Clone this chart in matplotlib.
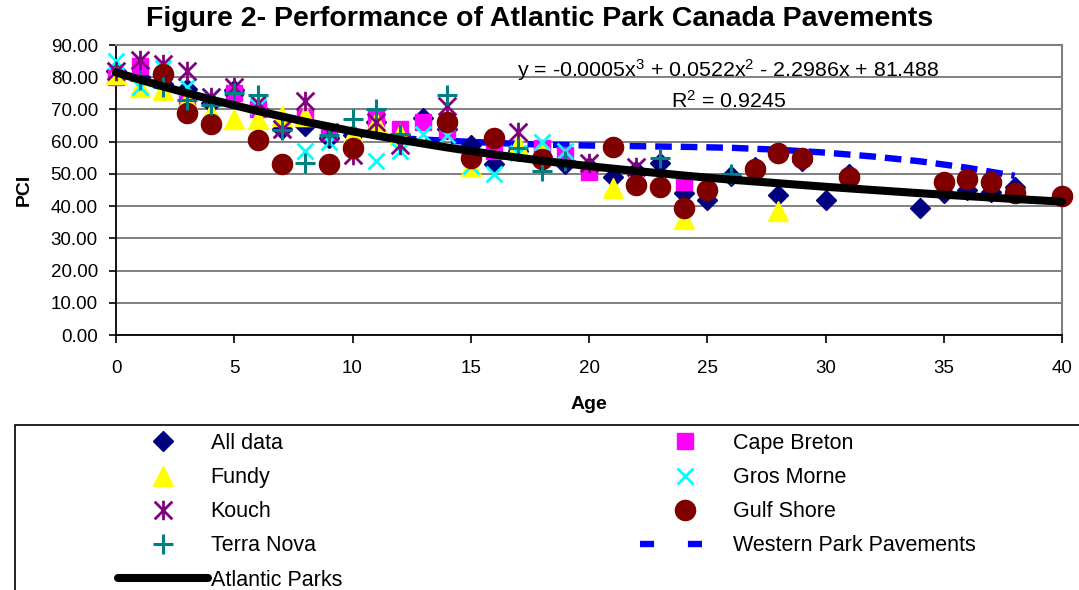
import matplotlib
matplotlib.use("Agg")
import matplotlib.pyplot as plt
from matplotlib.lines import Line2D
from matplotlib.path import Path
from matplotlib.patches import Rectangle

plt.rcParams.update({"font.family": ["Liberation Sans", "DejaVu Sans"],
                     "mathtext.default": "regular"})

# --- data (age in years, PCI) ---
ALL_AGE = [0, 1, 2, 3, 4, 5, 6, 7, 8, 9, 10, 11, 12, 13, 14, 15, 16, 17, 18, 19, 20,
           21, 22, 23, 24, 25, 26, 27, 28, 29, 30, 31, 34, 35, 36, 37, 38, 40]
ALL_PCI = [82, 80, 78, 76.5, 72, 76, 70, 64, 65, 61, 62, 66, 62, 67.5, 64, 59, 53, 57, 55, 53, 52,
           49, 51, 53.5, 44, 42, 49.5, 52, 43.5, 54, 42, 50, 39.5, 44, 45, 44.5, 46, 43]

CB_AGE = [0, 1, 3, 5, 6, 8, 9, 11, 12, 13, 14, 16, 18, 19, 20, 24]
CB_PCI = [80, 83.5, 72, 75, 70, 67.5, 63, 67.5, 64, 66, 63.5, 57, 58, 56, 50.5, 47.5]

FUN_AGE = [0, 1, 2, 3, 4, 5, 6, 7, 8, 10, 11, 12, 15, 17, 18, 21, 24, 28]
FUN_PCI = [81, 77, 76, 73, 69, 67, 67, 68, 68, 62.5, 66, 62.5, 52.5, 59, 57.5, 45.5, 36, 38.5]

GM_AGE = [0, 1, 2, 3, 4, 6, 7, 8, 9, 11, 12, 13, 14, 15, 16, 17, 18, 19]
GM_PCI = [85, 77, 83, 77, 74, 71, 64, 57, 60, 54, 57, 62.5, 62, 52.5, 50, 56.5, 60, 57]

KOU_AGE = [0, 1, 2, 3, 4, 5, 6, 7, 8, 9, 10, 11, 12, 14, 17, 20, 22]
KOU_PCI = [82, 85.5, 84, 82, 74, 77, 72, 64, 72.5, 63, 56, 66, 59, 71, 63, 53.5, 52]

GS_AGE = [2, 3, 4, 6, 7, 9, 10, 14, 15, 16, 18, 21, 22, 23, 24, 25, 27, 28, 29, 31,
          35, 36, 37, 38, 40]
GS_PCI = [81, 69, 65.5, 60.5, 53, 53, 58, 66, 55, 61, 54.5, 58.4, 46.5, 46, 39.5, 45, 51.5, 56.5, 55, 49,
          47.5, 48.5, 47.5, 44, 43]

TN_AGE = [1, 2, 3, 4, 5, 6, 7, 8, 9, 10, 11, 12, 14, 17, 18, 19, 23, 26]
TN_PCI = [79, 77, 73, 71.5, 75, 74.5, 63.5, 53.5, 62, 67, 70, 62.5, 74.5, 58, 51, 54, 55, 50]

WEST_AGE = [12, 14, 16, 18, 20, 22, 24, 26, 28, 30, 32, 34, 36, 38]
WEST_PCI = [61, 60.3, 59.6, 59.1, 58.8, 58.6, 58.4, 58.1, 57.5, 56.6, 55.4, 53.9, 51.9, 49.4]

ATL_AGE = [0, 2, 4, 6, 8, 10, 12, 14, 16, 18, 20, 22, 24, 26, 28, 30, 32, 34, 36, 38, 40]
ATL_PCI = [81.5, 77.1, 73.1, 69.5, 66.2, 63.2, 60.6, 58.2, 56.0, 54.1, 52.4, 50.9, 49.5, 48.2,
           47.1, 46.0, 45.0, 44.0, 43.1, 42.2, 41.4]

W, H = 1079, 590
fig = plt.figure(figsize=(W / 100, H / 100), dpi=100)
ax = fig.add_axes([116 / W, 1 - 335 / H, (1062 - 116) / W, (335 - 45) / H])

# Excel-style asterisk: an X with a vertical bar
star = Path([(-1, -1), (1, 1), (-1, 1), (1, -1), (0, -1.1), (0, 1.1)],
            [Path.MOVETO, Path.LINETO] * 3)

ax.plot(WEST_AGE, WEST_PCI, color="#0000FF", lw=4.6, dashes=(2.6, 1.4),
        dash_capstyle="butt", zorder=2)

series = [
    ("All data", ALL_AGE, ALL_PCI, dict(marker="D", ms=10.5, color="#000080", mec="#000080")),
    ("Cape Breton", CB_AGE, CB_PCI, dict(marker="s", ms=11, color="#FF00FF", mec="#FF00FF")),
    ("Fundy", FUN_AGE, FUN_PCI, dict(marker="^", ms=14, color="#FFFF00", mec="#FFFF00")),
    ("Gros Morne", GM_AGE, GM_PCI, dict(marker="x", ms=12, mew=2, color="#00FFFF")),
    ("Kouch", KOU_AGE, KOU_PCI, dict(marker=star, ms=14, mew=2, color="#800080")),
    ("Gulf Shore", GS_AGE, GS_PCI, dict(marker="o", ms=14.5, color="#800000", mec="#800000")),
    ("Terra Nova", TN_AGE, TN_PCI, dict(marker="+", ms=14, mew=2.2, color="#008080")),
]
handles = {}
for i, (name, xs, ys, st) in enumerate(series):
    h, = ax.plot(xs, ys, ls="none", clip_on=False, zorder=3 + i * 0.1, **st)
    handles[name] = h

atl, = ax.plot(ATL_AGE, ATL_PCI, color="black", lw=5.8, solid_capstyle="round",
               zorder=5, clip_on=False)

ax.set_xlim(0, 40)
ax.set_ylim(0, 90)
ax.set_xticks(range(0, 41, 5))
ax.set_yticks(range(0, 91, 10))
ax.set_yticklabels([f"{v:.2f}" for v in range(0, 91, 10)])
ax.grid(axis="y", color="#808080", lw=1.4)
ax.set_axisbelow(True)
ax.tick_params(axis="y", direction="out", length=5, width=1.2, labelsize=13.5, pad=8)
ax.tick_params(axis="x", direction="out", length=6, width=1.2, labelsize=13.5, pad=12)
for s in ("left", "bottom"):
    ax.spines[s].set_color("black")
    ax.spines[s].set_linewidth(1.3)
for s in ("top", "right"):
    ax.spines[s].set_color("#808080")
    ax.spines[s].set_linewidth(1.5)

ax.set_xlabel("Age", fontsize=14, fontweight="bold", labelpad=14)
ax.set_ylabel("PCI", fontsize=14, fontweight="bold", labelpad=13)
fig.text(0.5, 1 - 19 / H, "Figure 2- Performance of Atlantic Park Canada Pavements",
         ha="center", va="center", fontsize=20.5, fontweight="bold")

ax.text(25.9, 82.2, "y = -0.0005x$^{3}$ + 0.0522x$^{2}$ - 2.2986x + 81.488",
        ha="center", va="center", fontsize=15.4)
ax.text(25.9, 72.6, "R$^{2}$ = 0.9245", ha="center", va="center", fontsize=15.4)

# legend: frame runs off the figure edge as in the original
fig.patches.append(Rectangle((15 / W, -0.05), 1.1, (H - 425) / H + 0.05,
                             transform=fig.transFigure, fill=False, ec="black", lw=1.2))
west_leg = Line2D([], [], color="#0000FF", lw=4.6, dashes=(2.2, 5.3), dash_capstyle="butt")
leg_kw = dict(frameon=False, fontsize=15.5, handlelength=4.2, handletextpad=0.1,
              borderpad=0, borderaxespad=0, labelspacing=0.61, loc="upper left")
col1 = [handles["All data"], handles["Fundy"], handles["Kouch"], handles["Terra Nova"], atl]
lab1 = ["All data", "Fundy", "Kouch", "Terra Nova", "Atlantic Parks"]
col2 = [handles["Cape Breton"], handles["Gros Morne"], handles["Gulf Shore"], west_leg]
lab2 = ["Cape Breton", "Gros Morne", "Gulf Shore", "Western Park Pavements"]
fig.legend(col1, lab1, bbox_to_anchor=(118 / W, 1 - 433 / H), **leg_kw)
fig.legend(col2, lab2, bbox_to_anchor=(640 / W, 1 - 433 / H), **leg_kw)

fig.savefig("out.png", dpi=100)
